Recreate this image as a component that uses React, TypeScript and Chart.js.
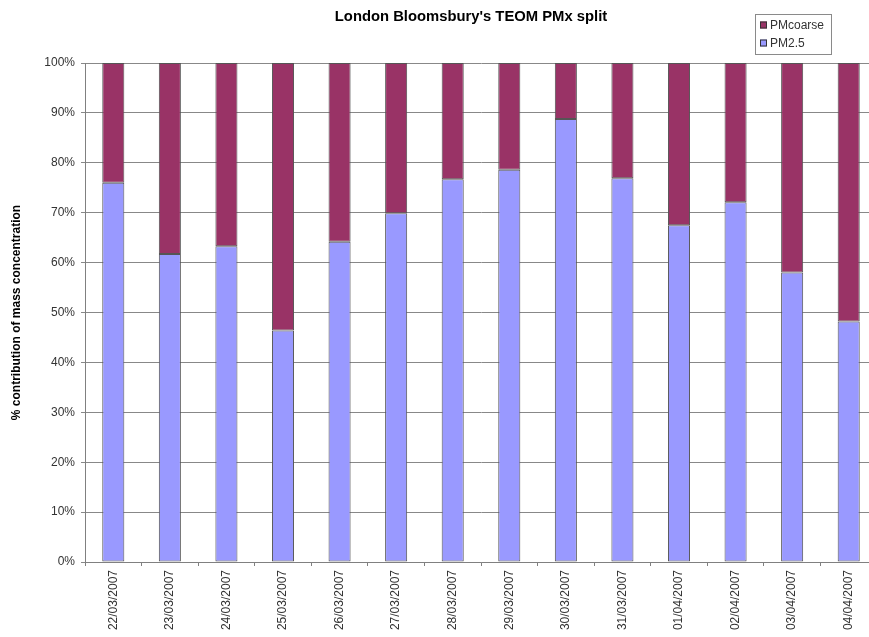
import React, { useEffect, useRef } from "react";
import { Chart, registerables } from "chart.js";

Chart.register(...registerables);

const categories = [
  "22/03/2007", "23/03/2007", "24/03/2007", "25/03/2007", "26/03/2007", "27/03/2007", "28/03/2007",
  "29/03/2007", "30/03/2007", "31/03/2007", "01/04/2007", "02/04/2007", "03/04/2007", "04/04/2007",
];
const pm25 = [76.0, 61.7, 63.3, 46.4, 64.2, 69.9, 76.7, 78.6, 88.8, 76.9, 67.5, 72.1, 58.0, 48.2];
const pmCoarse = [24.0, 38.3, 36.7, 53.6, 35.8, 30.1, 23.3, 21.4, 11.2, 23.1, 32.5, 27.9, 42.0, 51.8];
const seriesNames = ["PM2.5", "PMcoarse"];
const seriesColors = ["#9999FF", "#993366"];
const yTicks = [0, 10, 20, 30, 40, 50, 60, 70, 80, 90, 100];
const chartTitle = "London Bloomsbury's TEOM PMx split";

const FONT = "'Liberation Sans', Arial, sans-serif";

const boxLegend = {
  id: "boxLegend",
  afterDraw(chart: any) {
    const ctx = chart.ctx;
    const ds = [...chart.data.datasets].reverse();
    const x = 755, y = 14, w = 76, h = 40;
    ctx.save();
    ctx.fillStyle = "#ffffff";
    ctx.fillRect(x, y, w, h);
    ctx.strokeStyle = "#8a8a8a";
    ctx.lineWidth = 1;
    ctx.strokeRect(x + 0.5, y + 0.5, w, h);
    ctx.font = `12px ${FONT}`;
    ctx.textBaseline = "middle";
    ds.forEach((d: any, i: number) => {
      const cy = y + 11 + i * 18;
      ctx.fillStyle = d.backgroundColor;
      ctx.fillRect(x + 5, cy - 3.5, 7, 7);
      ctx.strokeStyle = "#333";
      ctx.strokeRect(x + 5.5, cy - 3, 6, 6);
      ctx.fillStyle = "#333";
      ctx.fillText(d.label, x + 15, cy + 0.5);
    });
    ctx.fillStyle = "#000";
    ctx.font = `bold 14.8px ${FONT}`;
    ctx.textAlign = "center";
    ctx.textBaseline = "middle";
    ctx.fillText(chartTitle, 471, 17);
    ctx.restore();
  },
};

export default function App() {
  const ref = useRef<HTMLCanvasElement>(null);
  useEffect(() => {
    document.body.style.margin = "0";
    document.body.style.overflow = "hidden";
    const chart = new Chart(ref.current!, {
      type: "bar",
      data: {
        labels: categories,
        datasets: [
          {
            label: seriesNames[0],
            data: pm25,
            backgroundColor: seriesColors[0],
            borderColor: "#555",
            borderWidth: 1,
            borderSkipped: false,
            inflateAmount: 0,
          },
          {
            label: seriesNames[1],
            data: pmCoarse,
            backgroundColor: seriesColors[1],
            borderColor: "#555",
            borderWidth: 1,
            borderSkipped: false,
            inflateAmount: 0,
          },
        ],
      },
      options: {
        animation: false,
        responsive: false,
        layout: { padding: { left: 0, right: 3, top: 63, bottom: 0 } },
        datasets: { bar: { categoryPercentage: 1, barPercentage: 0.39 } },
        plugins: {
          legend: { display: false },
          tooltip: { enabled: false },
          title: { display: false },
        },
        scales: {
          x: {
            stacked: true,
            grid: { drawOnChartArea: false, drawTicks: true, tickLength: 4, color: "#808080", offset: true },
            border: { display: true, color: "#808080" },
            ticks: {
              color: "#333",
              font: { family: FONT, size: 12 },
              minRotation: 90,
              maxRotation: 90,
              padding: 4,
              autoSkip: false,
            },
            afterFit(scale: any) {
              scale.height = 75;
            },
          },
          y: {
            stacked: true,
            min: 0,
            max: 100,
            afterBuildTicks(scale: any) {
              scale.ticks = yTicks.map((v) => ({ value: v }));
            },
            grid: { color: "#888", tickLength: 4, lineWidth: 1 },
            border: { display: true, color: "#808080" },
            ticks: {
              color: "#333",
              font: { family: FONT, size: 12 },
              padding: 6,
              callback: (v: any) => v + "%",
            },
            title: {
              display: true,
              text: "% contribution of mass concentration",
              color: "#000",
              font: { family: FONT, size: 12, weight: "bold" },
              padding: { top: 9, bottom: 0 },
            },
            afterFit(scale: any) {
              scale.width = 85;
            },
          },
        },
      },
      plugins: [boxLegend],
    });
    return () => chart.destroy();
  }, []);
  return (
    <div style={{ position: "fixed", left: 0, top: 0, width: 869, height: 637, overflow: "hidden", background: "#fff" }}>
      <canvas ref={ref} width={880} height={637} style={{ display: "block" }} />
    </div>
  );
}
